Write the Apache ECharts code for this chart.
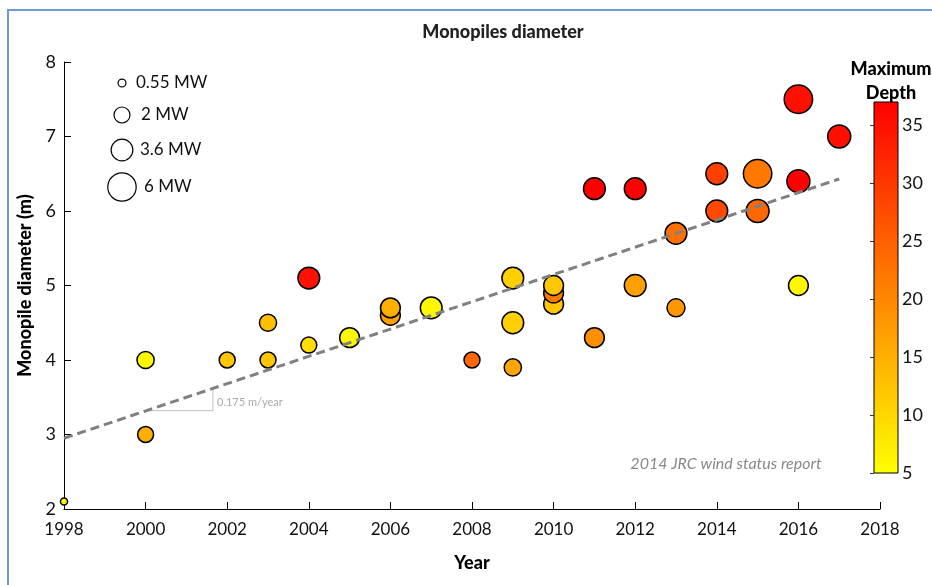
<!DOCTYPE html>
<html>
<head>
<meta charset="utf-8">
<script src="https://cdn.jsdelivr.net/npm/echarts@6/dist/echarts.min.js"></script>
<style>
  html, body { margin: 0; padding: 0; background: #fff; }
  #chart { width: 932px; height: 585px; }
</style>
</head>
<body>
<div id="chart"></div>
<script>
  // monopile data: year, diameter (m), max depth (m), turbine power (MW)
  const years = [1998, 2000, 2000, 2002, 2003, 2003, 2004, 2004, 2005, 2006, 2006, 2007, 2008, 2009, 2009, 2009,
    2010, 2010, 2010, 2011, 2011, 2012, 2012, 2013, 2013, 2014, 2014, 2015, 2015, 2015, 2016, 2016, 2016, 2017]
  const diameters = [2.1, 4.0, 3.0, 4.0, 4.5, 4.0, 5.1, 4.2, 4.3, 4.6, 4.7, 4.7, 4.0, 5.1, 4.5, 3.9,
    4.75, 4.9, 5.0, 6.3, 4.3, 6.3, 5.0, 5.7, 4.7, 6.5, 6.0, 6.5, 6.0, 6.0, 7.5, 6.4, 5.0, 7.0]
  const depths = [6, 6, 15, 12, 13, 12, 35, 9, 6, 17, 15, 6, 24, 11, 11, 16,
    12, 22, 12, 37, 19, 37, 17, 23, 18, 29, 28, 22, 24, 24, 35, 37, 6, 35]
  const powers = [0.45, 2.3, 2, 2, 2.3, 2, 3.6, 2, 3, 3, 3, 3.6, 2, 3.6, 3.6, 2.3,
    3, 3, 3, 3.6, 3, 3.6, 3.6, 3.6, 2.5, 3.6, 3.6, 6, 3.6, 4, 6, 4, 3, 4]

  // trend line (0.175 m/year label) and slope triangle
  const trendX = [1998, 2017]
  const trendY = [2.95, 6.43]
  const slopeX = [2000, 2001.65, 2001.65]
  const slopeY = [3.32, 3.32, 3.62]

  // size legend
  const legendMW = [0.55, 2, 3.6, 6]
  const legendText = ['0.55 MW', '2 MW', '3.6 MW', '6 MW']

  const depthTicks = { min: 5, max: 37, interval: 5 }

  const font = 'Lato'
  const sizeOf = mw => 12 * Math.sqrt(mw) - 1

  let chart = echarts.init(document.getElementById('chart'))

  let points = years.map((y, i) => [y, diameters[i], depths[i], powers[i]])

  // legend graphics
  let legendY = [83, 115, 150, 187]
  let legendTx = [136, 141, 140, 144]
  let legendGraphics = []
  legendMW.forEach((mw, i) => {
    legendGraphics.push({
      type: 'circle',
      shape: { cx: 122, cy: legendY[i], r: sizeOf(mw) / 2 },
      style: { fill: '#fff', stroke: '#000', lineWidth: 1.2 }
    })
    legendGraphics.push({
      type: 'text',
      x: legendTx[i], y: legendY[i],
      style: { text: legendText[i], font: '17px ' + font, fill: '#111', textVerticalAlign: 'middle' }
    })
  })

  chart.setOption({
    animation: false,
    textStyle: { fontFamily: font },
    title: [
      {
        text: 'Monopiles diameter',
        left: 498, top: 18, textAlign: 'center',
        textStyle: { fontSize: 18, fontWeight: 900, color: '#222' }
      },
      {
        text: 'Maximum\nDepth',
        left: 886, top: 52, textAlign: 'center',
        textStyle: { fontSize: 18, fontWeight: 900, color: '#000', lineHeight: 24 }
      }
    ],
    grid: [
      { left: 64, top: 62, right: 52, height: 447 },
      {
        left: 874, top: 102, width: 24, height: 371, show: true,
        borderColor: '#000', borderWidth: 1,
        backgroundColor: new echarts.graphic.LinearGradient(0, 0, 0, 1, [
          { offset: 0, color: '#ff0000' }, { offset: 1, color: '#ffff00' }
        ])
      }
    ],
    xAxis: [
      {
        type: 'value', min: 1998, max: 2018, interval: 2,
        name: 'Year', nameLocation: 'middle', nameGap: 45,
        nameTextStyle: { fontSize: 18, fontWeight: 900, color: '#000' },
        axisLine: { lineStyle: { color: '#000', width: 1 } },
        axisTick: { inside: true, length: 7, lineStyle: { color: '#000' } },
        axisLabel: { fontSize: 17, color: '#111', margin: 12, formatter: v => String(v) },
        splitLine: { show: false }
      },
      { gridIndex: 1, type: 'value', show: false }
    ],
    yAxis: [
      {
        type: 'value', min: 2, max: 8, interval: 1,
        name: 'Monopile diameter (m)', nameLocation: 'middle', nameGap: 25,
        nameTextStyle: { fontSize: 18, fontWeight: 900, color: '#000' },
        axisLine: { show: true, lineStyle: { color: '#000', width: 1 } },
        axisTick: { show: true, inside: true, length: 7, lineStyle: { color: '#000' } },
        axisLabel: { fontSize: 18, color: '#111', margin: 8 },
        splitLine: { show: false }
      },
      {
        gridIndex: 1, type: 'value', position: 'right',
        min: depthTicks.min, max: depthTicks.max, interval: depthTicks.interval,
        axisLine: { show: false },
        axisTick: { show: true, inside: true, length: 4, lineStyle: { color: '#333' } },
        axisLabel: { fontSize: 18, color: '#111', margin: 4, showMaxLabel: false },
        splitLine: { show: false }
      }
    ],
    visualMap: {
      show: false, type: 'continuous', seriesIndex: 0, dimension: 2,
      min: depthTicks.min, max: depthTicks.max,
      inRange: { color: ['#ffff00', '#ff0000'] }
    },
    graphic: [
      {
        type: 'rect', silent: true,
        shape: { x: 8, y: 10, width: 940, height: 600 },
        style: { fill: 'none', stroke: '#6f9bd1', lineWidth: 2 }
      },
      {
        type: 'text', x: 726, y: 464,
        style: {
          text: '2014 JRC wind status report', font: 'italic 16px ' + font,
          fill: '#888', textAlign: 'center', textVerticalAlign: 'middle'
        }
      },
      {
        type: 'text', x: 217, y: 402,
        style: { text: '0.175 m/year', font: '11px ' + font, fill: '#aaa', textVerticalAlign: 'middle' }
      }
    ].concat(legendGraphics),
    series: [
      {
        type: 'scatter',
        data: points,
        symbolSize: d => sizeOf(d[3]),
        itemStyle: { borderColor: '#000', borderWidth: 1.5, opacity: 1 },
        z: 3
      },
      {
        type: 'line', silent: true, symbol: 'none',
        data: trendX.map((x, i) => [x, trendY[i]]),
        lineStyle: { color: '#808080', width: 3, type: [9, 5] },
        z: 4
      },
      {
        type: 'line', silent: true, symbol: 'none',
        data: slopeX.map((x, i) => [x, slopeY[i]]),
        lineStyle: { color: '#c0c0c0', width: 1 },
        z: 2
      }
    ]
  })
</script>
</body>
</html>
